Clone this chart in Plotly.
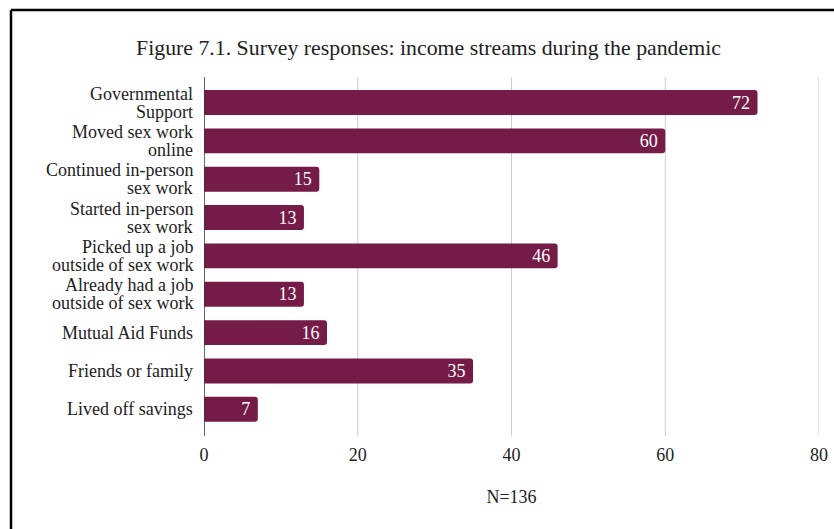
import plotly.graph_objects as go

categories = [
    "Governmental<br>Support",
    "Moved sex work<br>online",
    "Continued in-person<br>sex work",
    "Started in-person<br>sex work",
    "Picked up a job<br>outside of sex work",
    "Already had a job<br>outside of sex work",
    "Mutual Aid Funds",
    "Friends or family",
    "Lived off savings",
]
values = [72, 60, 15, 13, 46, 13, 16, 35, 7]
x_ticks = [0, 20, 40, 60, 80]

FONT = "Liberation Serif"
BAR = "#741b47"
TXT = "#222222"

fig = go.Figure(go.Bar(
    x=values, y=categories, orientation="h",
    marker=dict(color=BAR, cornerradius=3, line=dict(width=0)),
    width=0.65,
    text=[f"{v}\u00a0" for v in values],
    textposition="inside", insidetextanchor="end", textangle=0,
    textfont=dict(family=FONT, size=18, color="white"),
    constraintext="none",
    hoverinfo="skip",
))

W, H = 834, 529
L, R, T, B = 204, 15, 77, 93
pw, ph = W - L - R, H - T - B

def px(x):
    return (x - L) / pw

def py(y):
    return (H - B - y) / ph

# category labels, one annotation per line for tight line spacing
annotations = []
for cat in categories:
    lines = cat.split("<br>")
    n = len(lines)
    for i, ln in enumerate(lines):
        shift = (n - 1) * 9 - i * 18
        annotations.append(dict(
            text=ln, xref="paper", yref="y", x=px(195), y=cat,
            xanchor="right", yanchor="middle", yshift=shift, showarrow=False,
            font=dict(family=FONT, size=18, color=TXT),
        ))

shapes = []
for t in x_ticks[1:]:
    shapes.append(dict(type="line", xref="x", yref="paper", x0=t, x1=t, y0=0, y1=1,
                       line=dict(color="#cccccc", width=1), layer="below"))
shapes += [
    dict(type="line", xref="x", yref="paper", x0=0, x1=0, y0=0, y1=1,
         line=dict(color="#333333", width=1.5)),
    dict(type="line", xref="paper", yref="paper", x0=px(11), x1=px(11), y0=py(10), y1=py(H + 5),
         line=dict(color="black", width=2.5)),
    dict(type="line", xref="paper", yref="paper", x0=px(11), x1=px(W + 5), y0=py(10), y1=py(10),
         line=dict(color="black", width=2.5)),
]

fig.update_layout(
    width=W, height=H,
    margin=dict(l=L, r=R, t=T, b=B, autoexpand=False),
    paper_bgcolor="white", plot_bgcolor="white",
    font=dict(family=FONT, size=18, color=TXT),
    title=dict(text="Figure 7.1. Survey responses: income streams during the pandemic",
               x=428.5 / W, xanchor="center", y=1 - 47 / H, yanchor="middle",
               font=dict(family=FONT, size=21.8, color=TXT)),
    showlegend=False,
    xaxis=dict(range=[0, 80], tickvals=x_ticks, showgrid=False, automargin=False,
               zeroline=False, showline=False, ticklabelstandoff=6,
               tickfont=dict(family=FONT, size=18, color=TXT),
               title=dict(text="N=136", font=dict(family=FONT, size=18, color=TXT), standoff=26),
               fixedrange=True),
    yaxis=dict(range=[8.696, -0.665], showgrid=False, showline=False, zeroline=False,
               showticklabels=False, fixedrange=True, automargin=False),
    annotations=annotations,
    shapes=shapes,
)

fig.write_html("out.html", config={"displayModeBar": False},
               post_script="document.body.style.margin='0';")
